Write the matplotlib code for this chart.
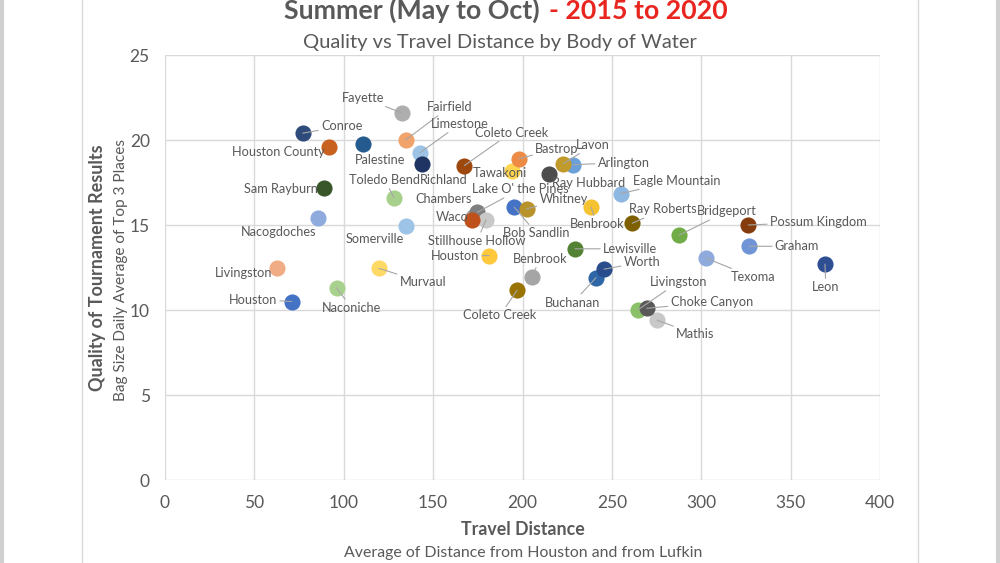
import matplotlib.pyplot as plt
from matplotlib.lines import Line2D

plt.rcParams['font.family'] = ['Lato', 'DejaVu Sans']

# body of water, travel distance, bag size quality, marker colour (draw order = list order)
lakes = ["Conroe", "Houston County", "Palestine", "Fayette", "Fairfield", "Limestone",
         "Richland", "Coleto Creek", "Sam Rayburn", "Toledo Bend", "Nacogdoches",
         "Somerville", "Livingston", "Murvaul", "Naconiche", "Houston", "Chambers",
         "Lake O' the Pines", "Stillhouse Hollow", "Waco", "Bob Sandlin", "Whitney",
         "Tawakoni", "Bastrop", "Ray Hubbard", "Arlington", "Lavon", "Eagle Mountain",
         "Benbrook", "Ray Roberts", "Bridgeport", "Possum Kingdom", "Graham", "Texoma",
         "Leon", "Lewisville", "Houston", "Benbrook", "Buchanan", "Worth",
         "Coleto Creek", "Livingston", "Mathis", "Choke Canyon"]
distance = [77.0, 91.9, 110.9, 132.4, 134.6, 142.7, 143.6, 167.5, 89.1, 128.1, 85.4,
            134.6, 62.5, 119.7, 96.0, 71.0, 172.5, 174.7, 179.6, 171.9, 195.4, 202.3,
            193.9, 198.0, 215.0, 228.1, 222.8, 255.1, 238.3, 261.4, 287.6, 326.3,
            326.7, 302.7, 369.2, 229.4, 181.4, 205.3, 241.1, 245.6, 196.9, 264.4,
            275.4, 269.5]
quality = [20.4, 19.6, 19.75, 21.6, 20.0, 19.25, 18.6, 18.5, 17.15, 16.6, 15.4, 14.95,
           12.45, 12.45, 11.3, 10.5, 15.5, 15.75, 15.3, 15.3, 16.05, 15.95, 18.15, 18.9,
           18.0, 18.55, 18.6, 16.85, 16.05, 15.1, 14.4, 15.0, 13.75, 13.05, 12.7, 13.6,
           13.2, 11.95, 11.9, 12.4, 11.15, 10.0, 9.4, 10.1]
colors = ["#2F4B7C", "#C8611E", "#245A8E", "#AEAEAE", "#F1A36B", "#9DC3E6", "#1F3462",
          "#9E480E", "#38562A", "#A8D08D", "#8FAADC", "#9DC3E6", "#F0AD85", "#FFD966",
          "#A9D18E", "#4472C4", "#A5A5A5", "#7F7F7F", "#C9C9C9", "#C0501A", "#4472C4",
          "#B8922A", "#FFD54F", "#ED8B45", "#4D4D4D", "#6A9FDA", "#C19A2C", "#8EB7E2",
          "#F5C232", "#7F6000", "#71AC48", "#843C0C", "#6F95D6", "#8FAADC", "#2F4F94",
          "#548235", "#FFC83D", "#A5A5A5", "#2E66A8", "#284C8C", "#997300", "#8BC168",
          "#C8C8C8", "#595959"]

# label placement: offset of label centre from point in pixels, leader line or not
label_offsets = [(39, 7, True), (-51, -5, False), (17, -16, False), (-39, 15, True),
                 (44, 33, True), (40, 29, True), (22, -16, False), (47, 33, True),
                 (-43, -1, False), (-9, 18, True), (-39, -14, False), (-31, -13, False),
                 (-33, -5, False), (44, -14, True), (15, -20, True), (-39, 2, True),
                 (-30, 18, False), (43, 23, True), (-9, -21, True), (-20, 3, False),
                 (22, -26, True), (37, 10, True), (-12, -2, False), (38, 10, True),
                 (39, -9, False), (51, 2, True), (30, 19, True), (56, 13, True),
                 (6, -17, True), (31, 14, True), (48, 24, True), (70, 3, True),
                 (48, 0, True), (47, -19, True), (1, -23, True), (55, 0, True),
                 (-34, 0, True), (8, 18, True), (-23, -25, True), (38, 7, True),
                 (-17, -25, True), (41, 28, True), (38, -14, True), (65, 6, True)]

grey = '#595959'
grid = '#D9D9D9'

fig = plt.figure(figsize=(10, 5.63), dpi=100)
ax = fig.add_axes([0.165, 0.1474, 0.715, 0.7549])

for i, name in enumerate(lakes):
    ax.scatter(distance[i], quality[i], s=135, color=colors[i], zorder=3 + i * 0.01,
               linewidths=0)

for i, name in enumerate(lakes):
    dx, dy, leader = label_offsets[i]
    arrow = None
    if leader:
        arrow = dict(arrowstyle='-', color='#A6A6A6', lw=0.8, shrinkA=0, shrinkB=0)
    ax.annotate(name, (distance[i], quality[i]), xytext=(dx, dy),
                textcoords='offset pixels', ha='center', va='center',
                fontsize=9.2, color=grey, arrowprops=arrow, zorder=5)

ax.set_xlim(0, 400)
ax.set_ylim(0, 25)
ax.set_xticks(range(0, 401, 50))
ax.set_yticks(range(0, 26, 5))
ax.grid(True, color=grid, lw=1)
ax.set_axisbelow(True)
for s in ax.spines.values():
    s.set_visible(False)
ax.tick_params(length=0, pad=11, labelsize=12.5, colors=grey)

fig.text(0.540, 0.966, "Summer (May to Oct)", ha='right', va='baseline',
         fontsize=19.3, fontweight='bold', color=grey)
fig.text(0.549, 0.966, "- 2015 to 2020", ha='left', va='baseline',
         fontsize=19.3, fontweight='bold', color='#E8251F')
fig.text(0.5, 0.915, "Quality vs Travel Distance by Body of Water", ha='center',
         va='baseline', fontsize=14.5, color=grey)

fig.text(0.523, 0.060, "Travel Distance", ha='center', va='center', fontsize=12.8,
         fontweight='bold', color=grey)
fig.text(0.523, 0.018, "Average of Distance from Houston and from Lufkin", ha='center',
         va='center', fontsize=11.4, color=grey)
fig.text(0.097, 0.524, "Quality of Tournament Results", rotation=90, ha='center',
         va='center', fontsize=13, fontweight='bold', color=grey)
fig.text(0.121, 0.520, "Bag Size Daily Average of Top 3 Places", rotation=90,
         ha='center', va='center', fontsize=11.1, color=grey)

# chart area borders
for xb in [0.082, 0.918]:
    fig.add_artist(Line2D([xb, xb], [0, 1], color=grid, lw=1))
for xb in [0.002, 0.998]:
    fig.add_artist(Line2D([xb, xb], [0, 1], color='#D0D0D0', lw=3))

fig.savefig('out.png', dpi=100)
